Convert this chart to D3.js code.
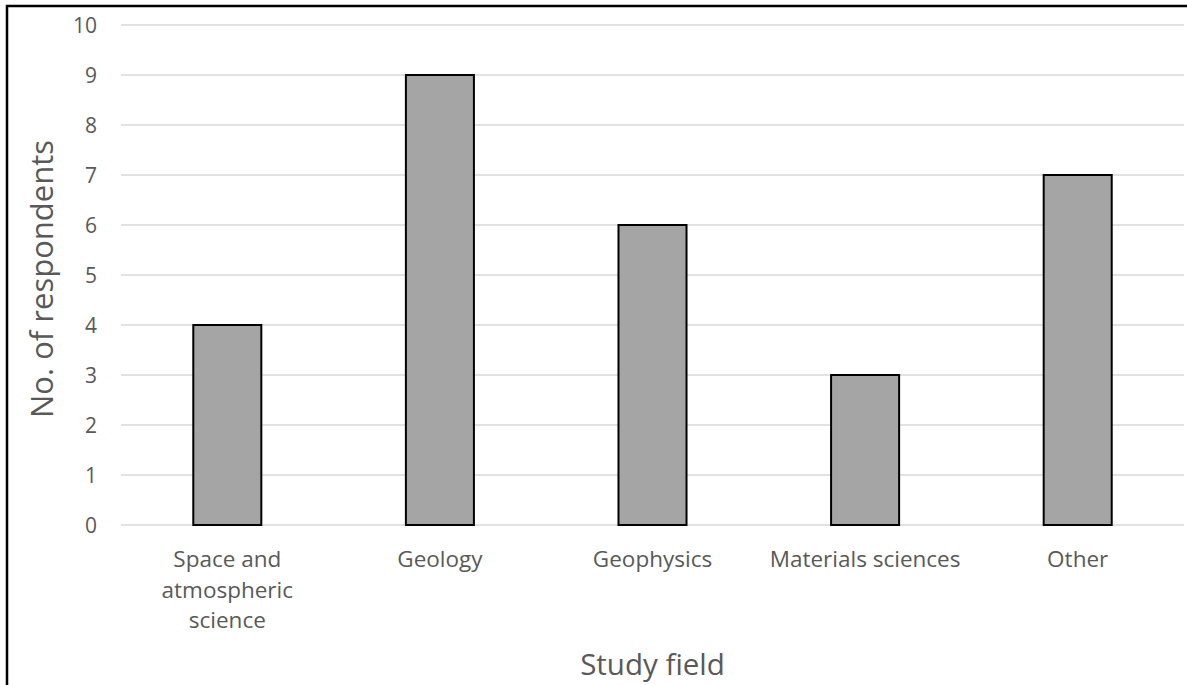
<!DOCTYPE html>
<html>
<head>
<meta charset="utf-8">
<script src="https://cdn.jsdelivr.net/npm/d3@7"></script>
<style>
  html, body { margin: 0; padding: 0; background: #fff; }
  svg { display: block; }
  text { font-family: "Open Sans", "Noto Sans", sans-serif; fill: #595959; }
</style>
</head>
<body>
<svg id="chart" width="1187" height="685"></svg>
<script>
// Respondents by study field
const categories = ["Space and atmospheric science", "Geology", "Geophysics", "Materials sciences", "Other"];
const categoryLines = [["Space and", "atmospheric", "science"], ["Geology"], ["Geophysics"], ["Materials sciences"], ["Other"]];
const respondents = [4, 9, 6, 3, 7];
const yTicks = [0, 1, 2, 3, 4, 5, 6, 7, 8, 9, 10];

const svg = d3.select("#chart");
const plot = { left: 121, right: 1184, top: 25, bottom: 525 };

const x = d3.scaleBand()
  .domain(categories)
  .range([plot.left, plot.right])
  .paddingInner(0.68)
  .paddingOuter(0.34);

const y = d3.scaleLinear()
  .domain([0, 10])
  .range([plot.bottom, plot.top]);

// frame on left and top
svg.append("path")
  .attr("d", "M7,685 V6 H1187")
  .attr("fill", "none")
  .attr("stroke", "#000")
  .attr("stroke-width", 2.5);

// horizontal gridlines
svg.append("g")
  .selectAll("line")
  .data(yTicks)
  .join("line")
  .attr("x1", plot.left)
  .attr("x2", plot.right)
  .attr("y1", d => y(d))
  .attr("y2", d => y(d))
  .attr("stroke", "#d9d9d9")
  .attr("stroke-width", 1.5);

// y tick labels
svg.append("g")
  .selectAll("text")
  .data(yTicks)
  .join("text")
  .attr("x", 97)
  .attr("y", d => y(d))
  .attr("dy", "0.36em")
  .attr("text-anchor", "end")
  .attr("font-size", 21)
  .text(d => d);

// bars
svg.append("g")
  .selectAll("rect")
  .data(respondents)
  .join("rect")
  .attr("x", (d, i) => x(categories[i]))
  .attr("y", d => y(d))
  .attr("width", x.bandwidth())
  .attr("height", d => y(0) - y(d))
  .attr("fill", "#a5a5a5")
  .attr("stroke", "#000")
  .attr("stroke-width", 2);

// category labels
const xl = svg.append("g")
  .selectAll("text")
  .data(categories)
  .join("text")
  .attr("x", d => x(d) + x.bandwidth() / 2)
  .attr("y", 567)
  .attr("text-anchor", "middle")
  .attr("font-size", 22.5);
xl.selectAll("tspan")
  .data((d, i) => categoryLines[i])
  .join("tspan")
  .attr("x", function () { return d3.select(this.parentNode).attr("x"); })
  .attr("dy", (d, j) => j === 0 ? 0 : 30.5)
  .text(d => d);

// axis titles
svg.append("text")
  .attr("x", (plot.left + plot.right) / 2)
  .attr("y", 675)
  .attr("text-anchor", "middle")
  .attr("font-size", 29.5)
  .text("Study field");

svg.append("text")
  .attr("transform", "translate(53,279) rotate(-90)")
  .attr("text-anchor", "middle")
  .attr("font-size", 31)
  .text("No. of respondents");
</script>
</body>
</html>
